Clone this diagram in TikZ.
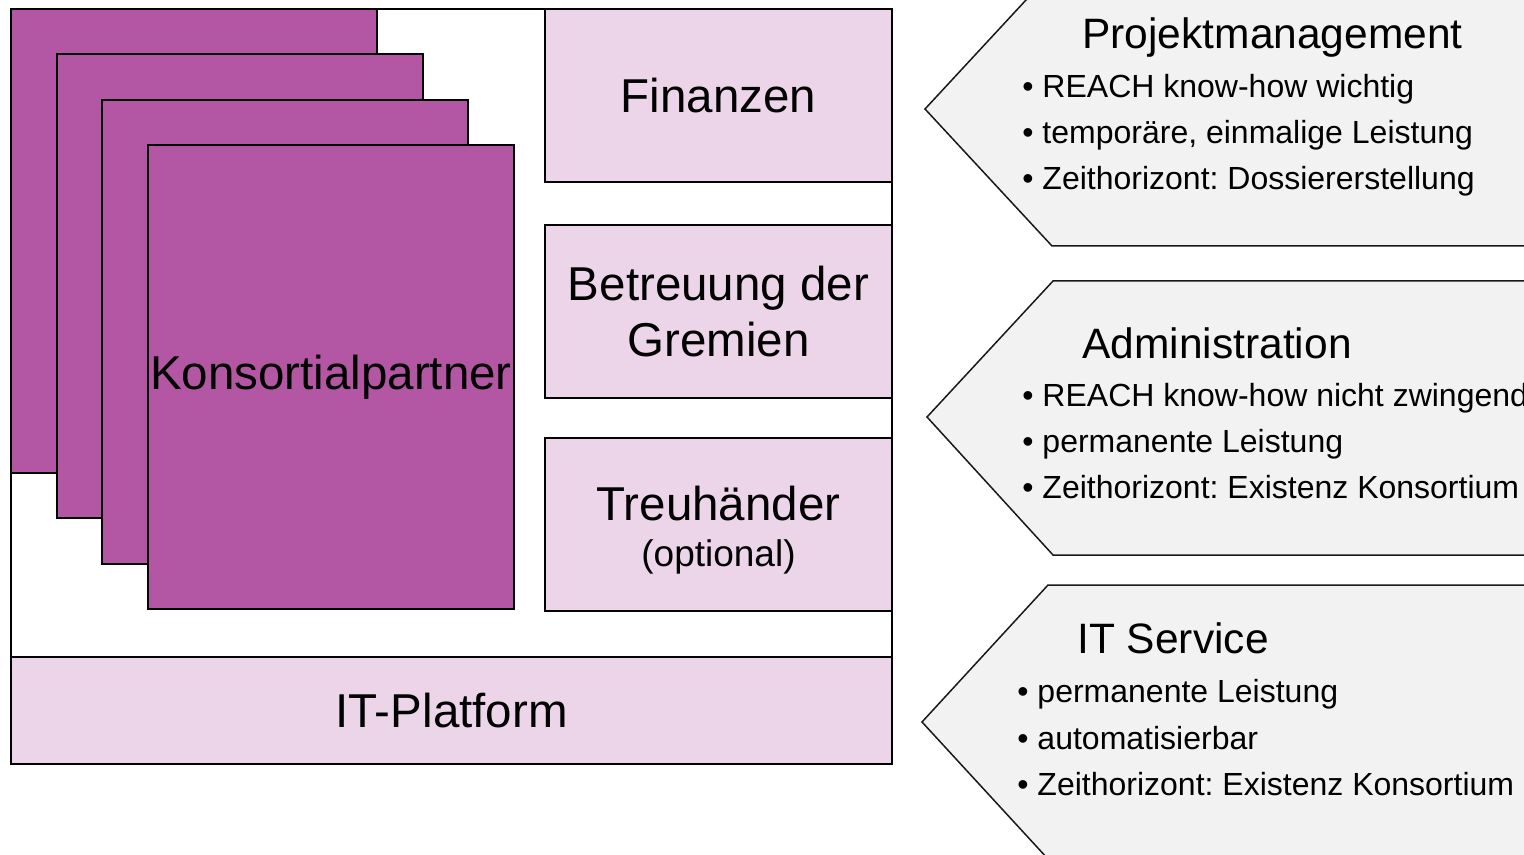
\documentclass[tikz,border=0pt]{standalone}
\usepackage{fontspec}
\setmainfont{Liberation Sans}
\frenchspacing
\definecolor{kpurple}{HTML}{B356A3}
\definecolor{kpink}{HTML}{EDD5E9}
\definecolor{kgrey}{HTML}{F2F2F2}
\begin{document}
\begin{tikzpicture}[x=0.5pt,y=-0.5pt,
  purplebox/.style={draw=black, line width=1pt, fill=kpurple, anchor=north west, inner sep=0pt, outer sep=0pt, minimum width=183pt, minimum height=232pt, font=\fontsize{23.75}{28}\selectfont},
  pinkbox/.style={draw=black, line width=0.8pt, fill=kpink, anchor=north west, inner sep=0pt, outer sep=0pt, minimum width=173.5pt, minimum height=86.5pt, align=center, font=\fontsize{23.75}{28}\selectfont},
  pent/.style={draw=black!90, line width=0.75pt, fill=kgrey},
  ttl/.style={anchor=base west, inner sep=0pt, font=\fontsize{21.25}{25}\selectfont},
  bul/.style={anchor=base west, inner sep=0pt, font=\fontsize{16}{20}\selectfont}]
\useasboundingbox (0,0) rectangle (1524,855);
\clip (0,0) rectangle (1524,855);
\fill[white] (0,0) rectangle (1524,855);
% outer frame
\node[draw=black, line width=1pt, fill=white, anchor=north west, inner sep=0pt, outer sep=0pt, minimum width=440.5pt, minimum height=377.5pt] (frame) at (11,9) {};
% stacked partner sheets
\node[purplebox] (k1) at (11,9) {};
\node[purplebox] (k2) at (56.7,54.3) {};
\node[purplebox] (k3) at (102.3,99.7) {};
\node[purplebox] (k4) at (148,145) {Konsortialpartner};
% right column boxes
\node[pinkbox] (fin) at (545,9) {Finanzen};
\node[pinkbox] (gre) at (545,225) {Betreuung der\\Gremien};
\node[pinkbox] (treu) at (545,438) {};
\node[anchor=base, inner sep=0pt, font=\fontsize{23.75}{28}\selectfont] (treuT) at (718.5,520) {Treuhänder};
\node[anchor=base, inner sep=0pt, font=\fontsize{18.5}{22}\selectfont] (treuO) at (718.5,566) {(optional)};
% IT platform
\node[pinkbox, minimum width=440.5pt, minimum height=53.5pt] (itp) at (11,657) {IT-Platform};
% right pentagons
\draw[pent] (1051,-27) coordinate (p1a) -- (925,109) coordinate (p1tip) -- (1052,246) coordinate (p1b) -- (1600,246) -- (1600,-27) -- cycle;
\draw[pent] (1053,281) coordinate (p2a) -- (927,417) coordinate (p2tip) -- (1053,555) coordinate (p2b) -- (1600,555) -- (1600,281) -- cycle;
\draw[pent] (1048,585) coordinate (p3a) -- (922,722) coordinate (p3tip) -- (1048,859) coordinate (p3b) -- (1600,859) -- (1600,585) -- cycle;
% texts block 1
\node[ttl] (t1) at (1082,49) {Projektmanagement};
\node[bul] (b11) at (1022,97.5) {• REACH know-how wichtig};
\node[bul] (b12) at (1022,143.5) {• temporäre, einmalige Leistung};
\node[bul] (b13) at (1022,189.5) {• Zeithorizont: Dossiererstellung};
% texts block 2
\node[ttl] (t2) at (1082,358) {Administration};
\node[bul] (b21) at (1022,406.5) {• REACH know-how nicht zwingend};
\node[bul] (b22) at (1022,452.5) {• permanente Leistung};
\node[bul] (b23) at (1022,498.5) {• Zeithorizont: Existenz Konsortium};
% texts block 3
\node[ttl] (t3) at (1077,653) {IT Service};
\node[bul] (b31) at (1017,702.5) {• permanente Leistung};
\node[bul] (b32) at (1017,749.5) {• automatisierbar};
\node[bul] (b33) at (1017,795.5) {• Zeithorizont: Existenz Konsortium};
\end{tikzpicture}
\end{document}
